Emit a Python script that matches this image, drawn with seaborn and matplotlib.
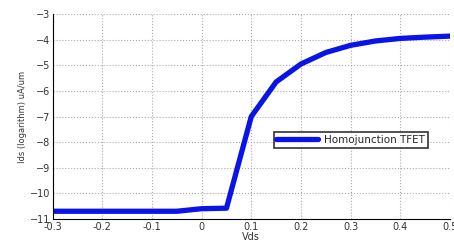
import seaborn as sns
import matplotlib.pyplot as plt
import pandas as pd

# Drain voltage (V) and log drain current
vds = [-0.3, -0.25, -0.2, -0.15, -0.1, -0.05, 0.0, 0.05, 0.1, 0.15, 0.2,
       0.25, 0.3, 0.35, 0.4, 0.45, 0.5]
ids_log = [-10.7, -10.7, -10.7, -10.7, -10.7, -10.7, -10.6, -10.58, -7.0,
           -5.65, -4.95, -4.5, -4.22, -4.05, -3.95, -3.9, -3.86]
series_name = 'Homojunction TFET'


def main():
    df = pd.DataFrame({'Vds': vds, 'Ids': ids_log, 'device': series_name})

    sns.set_style('white')
    plt.rcParams['font.family'] = ['DejaVu Sans']

    fig = plt.figure(figsize=(4.54, 2.43), dpi=100)
    ax = fig.add_axes([0.116, 0.099, 0.875, 0.843])

    sns.lineplot(data=df, x='Vds', y='Ids', hue='device', palette=['#0a14e6'],
                 linewidth=3.8, ax=ax, sort=False)

    ax.set_xlim(-0.3, 0.5)
    ax.set_ylim(-11, -3)
    ax.set_xticks([-0.3, -0.2, -0.1, 0, 0.1, 0.2, 0.3, 0.4, 0.5])
    ax.set_xticklabels(['-0.3', '-0.2', '-0.1', '0', '0.1', '0.2', '0.3', '0.4', '0.5'])
    ax.set_yticks(range(-11, -2))
    ax.grid(True, linestyle=':', color='#aaaaaa', linewidth=0.8)
    ax.tick_params(labelsize=7, length=0, pad=2, colors='#333333')
    for side in ['top', 'right']:
        ax.spines[side].set_visible(False)
    for side in ['left', 'bottom']:
        ax.spines[side].set_color('black')
        ax.spines[side].set_linewidth(0.8)

    ax.set_xlabel('Vds', fontsize=7, labelpad=0, color='#333333')
    ax.set_ylabel('Ids (logarithm) uA/um', fontsize=6, labelpad=2, color='#333333')

    leg = ax.legend(loc='center', bbox_to_anchor=(0.75, 0.385), fontsize=7.5,
                    frameon=True, fancybox=False, edgecolor='black',
                    handlelength=4, borderpad=0.25, handletextpad=0.6)
    leg.get_frame().set_linewidth(1.2)

    fig.savefig('out.png', dpi=100)


if __name__ == '__main__':
    main()
